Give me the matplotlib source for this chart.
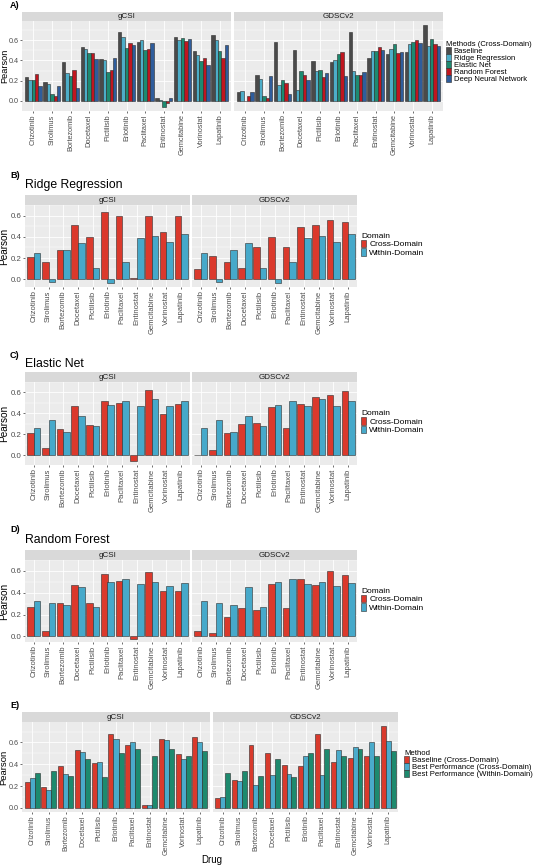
import matplotlib
matplotlib.use("Agg")
import matplotlib.pyplot as plt
import numpy as np
from matplotlib.patches import Patch

plt.rcParams['font.family'] = ['Liberation Sans', 'DejaVu Sans']

drugs = ["Crizotinib", "Sirolimus", "Bortezomib", "Docetaxel", "Pictilisib", "Erlotinib",
         "Paclitaxel", "Entinostat", "Gemcitabine", "Vorinostat", "Lapatinib"]
datasets = ["gCSI", "GDSCv2"]

# panel A : cross-domain methods
a_methods = ["Baseline", "Ridge Regression", "Elastic Net", "Random Forest", "Deep Neural Network"]
a_gcsi = [
    [0.24, 0.19, 0.38, 0.53, 0.41, 0.68, 0.58, 0.03, 0.63, 0.49, 0.65],
    [0.21, 0.165, 0.28, 0.51, 0.40, 0.63, 0.60, 0.01, 0.60, 0.45, 0.60],
    [0.21, 0.07, 0.25, 0.47, 0.29, 0.52, 0.50, -0.06, 0.62, 0.39, 0.49],
    [0.27, 0.05, 0.31, 0.47, 0.31, 0.57, 0.51, -0.02, 0.59, 0.42, 0.42],
    [0.15, 0.15, 0.13, 0.41, 0.42, 0.55, 0.57, 0.03, 0.61, 0.35, 0.55],
]
a_gdsc = [
    [0.09, 0.26, 0.58, 0.50, 0.39, 0.38, 0.68, 0.42, 0.46, 0.48, 0.75],
    [0.10, 0.22, 0.16, 0.11, 0.30, 0.40, 0.30, 0.49, 0.51, 0.56, 0.54],
    [0.00, 0.05, 0.21, 0.30, 0.31, 0.46, 0.26, 0.49, 0.56, 0.58, 0.61],
    [0.05, 0.03, 0.18, 0.26, 0.24, 0.48, 0.26, 0.53, 0.47, 0.60, 0.56],
    [0.09, 0.25, 0.07, 0.21, 0.28, 0.25, 0.29, 0.50, 0.48, 0.57, 0.54],
]
a_colors = ["#4a4a4a", "#4dadc8", "#1d8a70", "#c0161f", "#2f5d9c"]

# panels B-D : cross vs within domain
domains = ["Cross-Domain", "Within-Domain"]
dom_colors = ["#db392c", "#46a9ca"]

ridge_cross_gcsi = [0.21, 0.16, 0.28, 0.51, 0.40, 0.63, 0.60, 0.01, 0.60, 0.45, 0.60]
ridge_cross_gdsc = [0.10, 0.22, 0.16, 0.11, 0.30, 0.40, 0.30, 0.49, 0.51, 0.56, 0.54]
ridge_within = [0.25, -0.03, 0.28, 0.34, 0.11, -0.04, 0.16, 0.39, 0.41, 0.35, 0.43]

en_cross_gcsi = [0.21, 0.07, 0.25, 0.47, 0.29, 0.52, 0.50, -0.06, 0.62, 0.39, 0.49]
en_cross_gdsc = [0.005, 0.05, 0.21, 0.30, 0.31, 0.46, 0.26, 0.49, 0.56, 0.58, 0.61]
en_within = [0.26, 0.34, 0.22, 0.37, 0.28, 0.48, 0.52, 0.47, 0.54, 0.47, 0.52]

rf_cross_gcsi = [0.27, 0.05, 0.31, 0.47, 0.31, 0.57, 0.51, -0.02, 0.59, 0.42, 0.42]
rf_cross_gdsc = [0.05, 0.03, 0.18, 0.26, 0.24, 0.48, 0.26, 0.53, 0.47, 0.60, 0.56]
rf_within = [0.32, 0.31, 0.29, 0.45, 0.27, 0.50, 0.53, 0.48, 0.50, 0.46, 0.49]

# panel E : best performance
e_methods = ["Baseline (Cross-Domain)", "Best Performance (Cross-Domain)", "Best Performance (Within-Domain)"]
e_colors = ["#d93a2c", "#4aabcb", "#1d8a6e"]
e_gcsi = [
    [0.24, 0.19, 0.38, 0.53, 0.41, 0.68, 0.58, 0.03, 0.63, 0.49, 0.65],
    [0.27, 0.16, 0.31, 0.51, 0.42, 0.63, 0.60, 0.03, 0.62, 0.45, 0.60],
    [0.32, 0.34, 0.29, 0.45, 0.28, 0.50, 0.54, 0.48, 0.54, 0.48, 0.52],
]
e_gdsc = [
    [0.09, 0.26, 0.58, 0.50, 0.39, 0.38, 0.68, 0.42, 0.46, 0.48, 0.75],
    [0.10, 0.25, 0.21, 0.30, 0.31, 0.48, 0.30, 0.53, 0.56, 0.60, 0.61],
    [0.32, 0.34, 0.29, 0.45, 0.28, 0.50, 0.54, 0.48, 0.54, 0.48, 0.52],
]

W, H = 536, 867
fig = plt.figure(figsize=(W / 100, H / 100), dpi=100)


def box(x0, y0, x1, y1):
    return [x0 / W, 1 - y1 / H, (x1 - x0) / W, (y1 - y0) / H]


def facet_panel(lefts, top, bottom, strip_h, series, colors, names, tick_fs, ytick_fs,
                ylab_fs, ylab_x, strip_fs, legend_xy, legend_title, leg_fs, leg_space):
    allv = np.array(series, dtype=float)
    lo = min(0, allv.min())
    hi = max(0, allv.max())
    pad = (hi - lo) * 0.05
    x = np.arange(1, len(drugs) + 1)
    axes = []
    for j, (x0, x1) in enumerate(lefts):
        ax = fig.add_axes(box(x0, top, x1, bottom))
        ax.set_facecolor("#ebebeb")
        vals = series[j]
        n = len(vals)
        w = 0.9 / n
        for k in range(n):
            ax.bar(x + (k - (n - 1) / 2) * w, vals[k], width=w, color=colors[k],
                   edgecolor="#2b2b2b", linewidth=0.4, zorder=3)
        ax.set_xlim(0.4, len(drugs) + 0.6)
        ax.set_ylim(lo - pad, hi + pad)
        ax.set_yticks([0, 0.2, 0.4, 0.6])
        ax.set_yticks([0.1, 0.3, 0.5, 0.7], minor=True)
        ax.set_xticks(x)
        ax.set_xticklabels(drugs, rotation=90, fontsize=tick_fs, color="#4d4d4d")
        ax.grid(True, which="major", color="white", linewidth=0.6, zorder=0)
        ax.grid(True, which="minor", axis="y", color="white", linewidth=0.3, zorder=0)
        ax.tick_params(which="major", length=1.5, width=0.5, color="#333333", pad=1)
        ax.tick_params(which="minor", length=0)
        for s in ax.spines.values():
            s.set_visible(False)
        if j == 0:
            ax.set_yticklabels(["0.0", "0.2", "0.4", "0.6"], fontsize=ytick_fs, color="#4d4d4d")
            ax.set_ylabel("Pearson", fontsize=ylab_fs)
            # label baseline sits a little right of the figure edge
            ax.yaxis.set_label_coords((ylab_x - x0) / (x1 - x0), 0.5)
        else:
            ax.tick_params(axis="y", which="both", length=0, labelleft=False)
        sax = fig.add_axes(box(x0, top - strip_h, x1, top))
        sax.set_facecolor("#d9d9d9")
        sax.set_xticks([])
        sax.set_yticks([])
        for s in sax.spines.values():
            s.set_visible(False)
        sax.text(0.5, 0.45, datasets[j], ha="center", va="center", fontsize=strip_fs, color="#1a1a1a")
        axes.append(ax)
    handles = [Patch(facecolor=c, edgecolor="#2b2b2b", linewidth=0.4) for c in colors]
    fig.legend(handles, names, loc="upper left",
               bbox_to_anchor=(legend_xy[0] / W, 1 - legend_xy[1] / H),
               frameon=False, fontsize=leg_fs, title=legend_title, title_fontsize=leg_fs,
               handlelength=0.6, handleheight=0.95, labelspacing=leg_space,
               handletextpad=0.4, borderpad=0, borderaxespad=0, alignment="left")
    return axes


# A
fig.text(10 / W, 1 - 5 / H, "A)", fontsize=6.5, fontweight="bold", va="center")
facet_panel([(22, 231), (234, 443)], 21, 111, 9.5, [a_gcsi, a_gdsc], a_colors, a_methods,
            5.3, 5.2, 6.6, 9.0, 5.8, (446, 41), "Methods (Cross-Domain)", 5.5, -0.12)

# B, C, D
bcd = [
    ("B)", "Ridge Regression", 176, 185, 205, 287, ridge_cross_gcsi, ridge_cross_gdsc, ridge_within),
    ("C)", "Elastic Net", 355, 364, 382, 465, en_cross_gcsi, en_cross_gdsc, en_within),
    ("D)", "Random Forest", 530, 540, 560, 642, rf_cross_gcsi, rf_cross_gdsc, rf_within),
]
for lab, title, ylab, ytitle, top, bottom, cg, cd, wi in bcd:
    fig.text(10 / W, 1 - ylab / H, lab, fontsize=6.5, fontweight="bold", va="center")
    fig.text(25 / W, 1 - ytitle / H, title, fontsize=8.8, va="center")
    facet_panel([(25, 190), (192, 357)], top, bottom, 10.5, [[cg, wi], [cd, wi]], dom_colors, domains,
                5.5, 5.7, 7.2, 9.5, 5.8, (361, (top + bottom) / 2 - 13), "Domain", 6, 0.0)

# E
fig.text(10 / W, 1 - 706 / H, "E)", fontsize=6.5, fontweight="bold", va="center")
facet_panel([(22, 210), (213, 398)], 722, 812, 10, [e_gcsi, e_gdsc], e_colors, e_methods,
            5.0, 5.2, 6.8, 8.5, 5.8, (404, 750), "Method", 5.6, -0.12)
fig.text(212 / W, 1 - 860 / H, "Drug", fontsize=7, ha="center", va="center")

fig.savefig("out.png", dpi=100)
